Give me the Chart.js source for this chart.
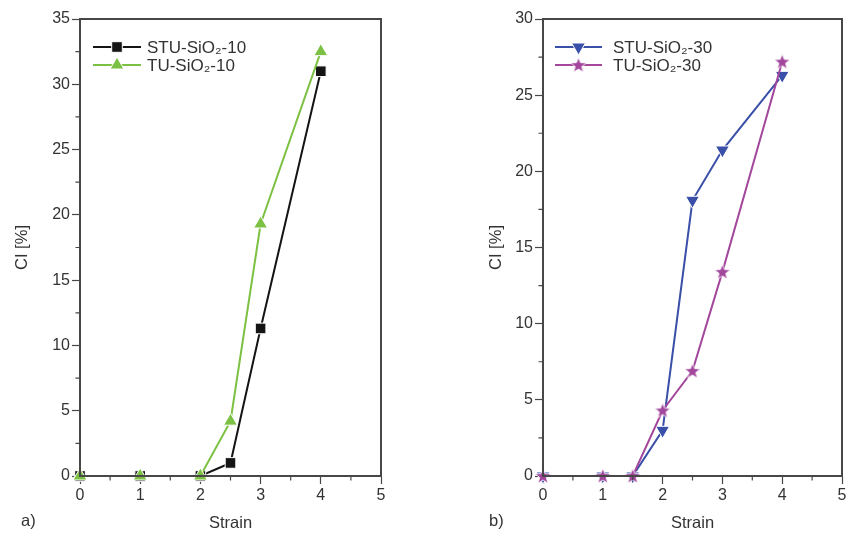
<!DOCTYPE html>
<html><head><meta charset="utf-8">
<script src="https://cdn.jsdelivr.net/npm/chart.js@4/dist/chart.umd.min.js"></script>
<style>
html,body{margin:0;padding:0;background:#fff;width:851px;height:543px;overflow:hidden}
.panel{position:absolute;top:0;height:543px}
#pa{left:0;width:425px}
#pb{left:465px;width:386px}
</style></head><body>
<div class="panel" id="pa"><canvas id="ca" width="425" height="543"></canvas></div>
<div class="panel" id="pb"><canvas id="cb" width="386" height="543"></canvas></div>
<script>
// ---- data ----
const strainA = [0, 1, 2, 2.5, 3, 4];
const stuSiO2_10 = [0, 0, 0, 1.0, 11.3, 31.0];
const tuSiO2_10 = [0, 0, 0, 4.2, 19.3, 32.5];

const strainB = [0, 1, 1.5, 2, 2.5, 3, 4];
const stuSiO2_30 = [0, 0, 0, 3.0, 18.1, 21.4, 26.3];
const tuSiO2_30 = [0, 0, 0, 4.3, 6.9, 13.4, 27.2];

const xTicks = [0, 1, 2, 3, 4, 5];
const yTicksA = [0, 5, 10, 15, 20, 25, 30, 35];
const yTicksB = [0, 5, 10, 15, 20, 25, 30];

const labelsA = ['STU-SiO\u2082-10', 'TU-SiO\u2082-10'];
const labelsB = ['STU-SiO\u2082-30', 'TU-SiO\u2082-30'];
const panelLabels = ['a)', 'b)'];

// ---- style ----
const FONT = "'Liberation Sans', Arial, Helvetica, sans-serif";
const TXT = '#333333';
const AX = '#474747';
const C_BLACK = '#141414', C_GREEN = '#7cc143', C_BLUE = '#3a4fa8', C_PURPLE = '#a3479d';
Chart.defaults.font.family = FONT;
Chart.defaults.font.size = 16;
Chart.defaults.color = TXT;

function makeStar(color) {
  const c = document.createElement('canvas');
  c.width = 20; c.height = 20;
  const g = c.getContext('2d');
  const R = 8.2, r = 3.5, cx = 10, cy = 10.5;
  g.beginPath();
  for (let i = 0; i < 10; i++) {
    const a = -Math.PI / 2 + i * Math.PI / 5;
    const rr = i % 2 ? r : R;
    const px = cx + Math.cos(a) * rr, py = cy + Math.sin(a) * rr;
    i ? g.lineTo(px, py) : g.moveTo(px, py);
  }
  g.closePath();
  g.fillStyle = color; g.fill();
  g.lineWidth = 0.8; g.strokeStyle = '#fff'; g.stroke();
  return c;
}
const starImg = makeStar(C_PURPLE);

function pts(xs, ys) { return xs.map((x, i) => ({x: x, y: ys[i]})); }

function ds(label, xs, ys, color, style, radius, rot, order) {
  return {
    label: label, data: pts(xs, ys), borderColor: color, backgroundColor: color,
    borderWidth: 2, showLine: true, pointStyle: style, pointRadius: radius,
    pointRotation: rot, pointBorderColor: '#fff', pointBorderWidth: 1,
    pointBackgroundColor: color, order: order, clip: 8, tension: 0
  };
}

function drawMarker(ctx, d, cx, cy) {
  const st = d.pointStyle, r = d.pointRadius;
  ctx.save();
  ctx.fillStyle = d.pointBackgroundColor;
  ctx.strokeStyle = '#fff';
  ctx.lineWidth = 1;
  if (st instanceof HTMLCanvasElement) {
    ctx.drawImage(st, cx - st.width / 2, cy - st.height / 2);
  } else if (st === 'rect') {
    const s = Math.SQRT1_2 * r;
    ctx.beginPath(); ctx.rect(cx - s, cy - s, 2 * s, 2 * s); ctx.fill(); ctx.stroke();
  } else if (st === 'triangle') {
    let a = (d.pointRotation || 0) * Math.PI / 180;
    ctx.beginPath();
    for (let i = 0; i < 3; i++) {
      const px = cx + Math.sin(a) * r, py = cy - Math.cos(a) * r;
      i ? ctx.lineTo(px, py) : ctx.moveTo(px, py);
      a += 2 * Math.PI / 3;
    }
    ctx.closePath(); ctx.fill(); ctx.stroke();
  }
  ctx.restore();
}

const decoPlugin = {
  id: 'deco',
  afterDraw(chart, args, o) {
    const ctx = chart.ctx, ca = chart.chartArea;
    const xs = chart.scales.x, ys = chart.scales.y;
    ctx.save();
    // frame
    ctx.strokeStyle = AX; ctx.lineWidth = 2;
    ctx.strokeRect(ca.left, ca.top, ca.right - ca.left, ca.bottom - ca.top);
    // minor ticks (midpoints of the major ticks)
    ctx.lineWidth = 1.2;
    ctx.beginPath();
    const mx = o.xTicks, my = o.yTicks;
    for (let i = 0; i < mx.length - 1; i++) {
      const p = xs.getPixelForValue((mx[i] + mx[i + 1]) / 2);
      ctx.moveTo(p, ca.bottom); ctx.lineTo(p, ca.bottom + 4.5);
    }
    for (let i = 0; i < my.length - 1; i++) {
      const p = ys.getPixelForValue((my[i] + my[i + 1]) / 2);
      ctx.moveTo(ca.left, p); ctx.lineTo(ca.left - 4.5, p);
    }
    ctx.stroke();
    // legend
    const L = o.legend;
    chart.data.datasets.forEach((d, i) => {
      const y = ca.top + L.top + i * L.rowH;
      const x1 = ca.left + L.left, x2 = x1 + L.len;
      ctx.strokeStyle = d.borderColor; ctx.lineWidth = 2;
      ctx.beginPath(); ctx.moveTo(x1, y); ctx.lineTo(x2, y); ctx.stroke();
      drawMarker(ctx, d, (x1 + x2) / 2, y);
      ctx.fillStyle = TXT; ctx.font = '17px ' + FONT;
      ctx.textBaseline = 'middle'; ctx.textAlign = 'left';
      ctx.fillText(d.label, x2 + L.gap, y + 1);
    });
    // panel label
    ctx.fillStyle = TXT; ctx.font = '16.5px ' + FONT;
    ctx.textBaseline = 'middle'; ctx.textAlign = 'left';
    ctx.fillText(o.panel, o.panelX, o.panelY);
    ctx.restore();
  }
};

function makeChart(id, datasets, yTicks, yLeft, padRight, yTitlePad, deco) {
  return new Chart(document.getElementById(id), {
    type: 'scatter',
    data: {datasets: datasets},
    plugins: [decoPlugin],
    options: {
      responsive: false, animation: false, events: [],
      layout: {padding: {top: 19, right: padRight, left: 0, bottom: 0}},
      plugins: {legend: {display: false}, tooltip: {enabled: false}, deco: deco},
      scales: {
        x: {
          type: 'linear', min: xTicks[0], max: xTicks[xTicks.length - 1],
          afterBuildTicks: s => { s.ticks = xTicks.map(v => ({value: v})); },
          afterFit: s => { s.height = 543 - 476; },
          grid: {drawOnChartArea: false, drawTicks: true, tickLength: 8, tickColor: AX, tickWidth: 1.2},
          border: {color: AX, width: 2},
          ticks: {padding: 2, color: TXT, font: {size: 16}, maxRotation: 0},
          title: {display: true, text: 'Strain', color: TXT, font: {size: 16.5}, padding: {top: 0, bottom: 10}}
        },
        y: {
          type: 'linear', min: yTicks[0], max: yTicks[yTicks.length - 1],
          afterBuildTicks: s => { s.ticks = yTicks.map(v => ({value: v})); },
          afterFit: s => { s.width = yLeft; },
          grid: {drawOnChartArea: false, drawTicks: true, tickLength: 8, tickColor: AX, tickWidth: 1.2},
          border: {color: AX, width: 2},
          ticks: {padding: 2, color: TXT, font: {size: 16}},
          title: {display: true, text: 'CI [%]', color: TXT, font: {size: 16.5}, padding: {top: yTitlePad, bottom: 0}}
        }
      }
    }
  });
}

makeChart('ca', [
  ds(labelsA[0], strainA, stuSiO2_10, C_BLACK, 'rect', 7.5, 0, 2),
  ds(labelsA[1], strainA, tuSiO2_10, C_GREEN, 'triangle', 8, 0, 1)
], yTicksA, 80, 44, 13, {
  xTicks: xTicks, yTicks: yTicksA, panel: panelLabels[0], panelX: 21, panelY: 521,
  legend: {left: 13, top: 28, rowH: 18, len: 48, gap: 6}
});

makeChart('cb', [
  ds(labelsB[0], strainB, stuSiO2_30, C_BLUE, 'triangle', 8, 180, 2),
  ds(labelsB[1], strainB, tuSiO2_30, C_PURPLE, starImg, 8, 0, 1)
], yTicksB, 78, 6, 22, {
  xTicks: xTicks, yTicks: yTicksB, panel: panelLabels[1], panelX: 24, panelY: 521,
  legend: {left: 12, top: 28, rowH: 18, len: 47, gap: 11}
});
</script>
</body></html>
